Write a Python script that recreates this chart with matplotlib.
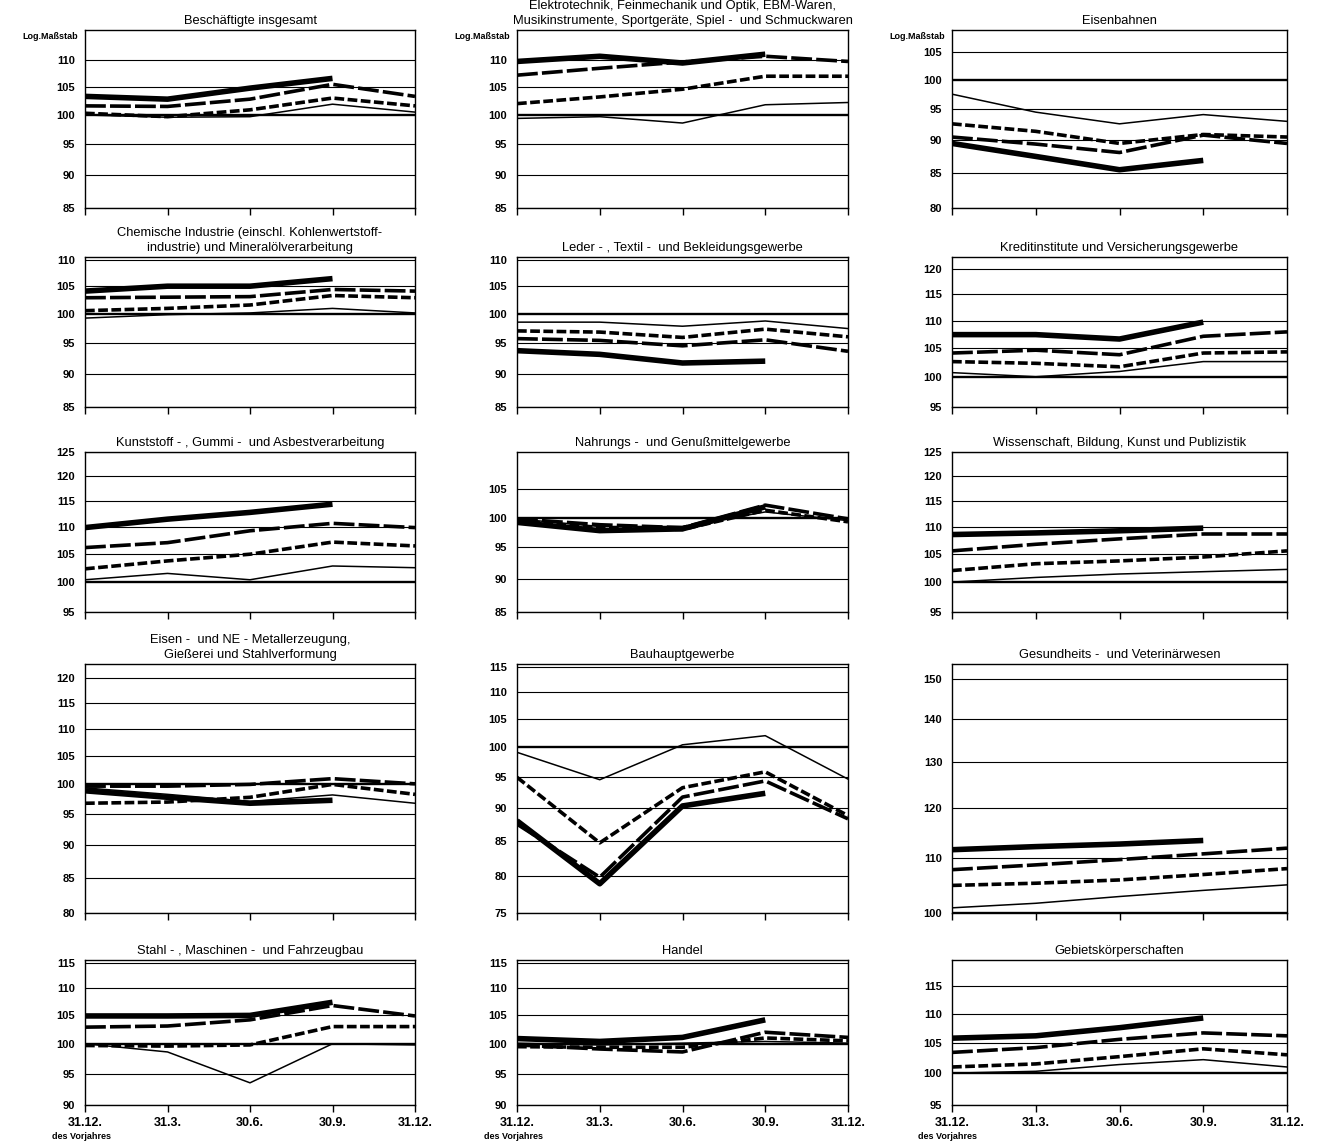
import matplotlib
matplotlib.use("Agg")
import matplotlib.pyplot as plt
from matplotlib.ticker import FixedLocator, NullFormatter, FuncFormatter

plt.rcParams['font.family'] = ['Liberation Sans', 'DejaVu Sans']
plt.rcParams['lines.scale_dashes'] = False

# ---- data -------------------------------------------------------------
titles = [
    "Beschäftigte insgesamt",
    "Elektrotechnik, Feinmechanik und Optik, EBM-Waren,\nMusikinstrumente, Sportgeräte, Spiel -  und Schmuckwaren",
    "Eisenbahnen",
    "Chemische Industrie (einschl. Kohlenwertstoff-\nindustrie) und Mineralölverarbeitung",
    "Leder - , Textil -  und Bekleidungsgewerbe",
    "Kreditinstitute und Versicherungsgewerbe",
    "Kunststoff - , Gummi -  und Asbestverarbeitung",
    "Nahrungs -  und Genußmittelgewerbe",
    "Wissenschaft, Bildung, Kunst und Publizistik",
    "Eisen -  und NE - Metallerzeugung,\nGießerei und Stahlverformung",
    "Bauhauptgewerbe",
    "Gesundheits -  und Veterinärwesen",
    "Stahl - , Maschinen -  und Fahrzeugbau",
    "Handel",
    "Gebietskörperschaften",
]

x_labels = ["31.12.", "31.3.", "30.6.", "30.9.", "31.12."]

y_ticks = [
    [85, 90, 95, 100, 105, 110],
    [85, 90, 95, 100, 105, 110],
    [80, 85, 90, 95, 100, 105],
    [85, 90, 95, 100, 105, 110],
    [85, 90, 95, 100, 105, 110],
    [95, 100, 105, 110, 115, 120],
    [95, 100, 105, 110, 115, 120, 125],
    [85, 90, 95, 100, 105],
    [95, 100, 105, 110, 115, 120, 125],
    [80, 85, 90, 95, 100, 105, 110, 115, 120],
    [75, 80, 85, 90, 95, 100, 105, 110, 115],
    [100, 110, 120, 130, 140, 150],
    [90, 95, 100, 105, 110, 115],
    [90, 95, 100, 105, 110, 115],
    [95, 100, 105, 110, 115],
]
y_top = [116, 116, 109, 110.5, 110.5, 122.5, 125, 112, 125, 123, 115.5, 154, 115.5, 115.5, 120]

# four series per panel (thin solid, short dashes, long dashes, thick solid)
thin = [
    [100.0, 99.6, 99.7, 101.9, 100.5],
    [99.4, 99.7, 98.6, 101.8, 102.2],
    [97.5, 94.5, 92.6, 94.1, 93.0],
    [99.3, 99.9, 100.2, 101.0, 100.2],
    [98.6, 98.6, 97.9, 98.8, 97.5],
    [100.7, 100.0, 100.9, 102.6, 102.6],
    [100.4, 101.5, 100.4, 102.8, 102.5],
    [99.8, 98.5, 98.5, 101.0, 99.5],
    [100.0, 100.8, 101.4, 101.8, 102.2],
    [99.3, 98.2, 97.0, 98.1, 96.7],
    [99.1, 94.5, 100.4, 102.0, 94.6],
    [100.9, 101.7, 102.9, 104.0, 105.0],
    [100.0, 98.6, 93.5, 100.0, 99.8],
    [100.1, 99.8, 100.1, 100.4, 100.1],
    [100.0, 100.3, 101.4, 102.2, 101.0],
]
short_dash = [
    [100.3, 99.7, 100.9, 103.0, 101.6],
    [102.0, 103.2, 104.6, 107.0, 107.0],
    [92.6, 91.4, 89.5, 90.9, 90.5],
    [100.6, 101.0, 101.6, 103.3, 102.9],
    [97.1, 96.9, 96.0, 97.4, 96.1],
    [102.6, 102.3, 101.7, 104.1, 104.3],
    [102.3, 103.7, 104.9, 107.1, 106.4],
    [99.5, 98.2, 98.0, 101.3, 99.3],
    [102.0, 103.2, 103.7, 104.4, 105.5],
    [96.7, 96.9, 97.7, 99.9, 98.2],
    [94.9, 84.7, 93.2, 95.8, 88.8],
    [104.9, 105.3, 105.9, 106.9, 108.0],
    [99.7, 99.6, 99.8, 103.0, 103.0],
    [99.5, 99.4, 99.4, 101.0, 100.5],
    [101.0, 101.5, 102.7, 104.0, 103.0],
]
long_dash = [
    [101.6, 101.5, 102.8, 105.5, 103.3],
    [107.2, 108.5, 109.7, 110.8, 109.8],
    [90.5, 89.4, 88.1, 90.8, 89.5],
    [102.9, 103.0, 103.1, 104.4, 104.1],
    [95.8, 95.5, 94.6, 95.6, 93.7],
    [104.1, 104.6, 103.8, 107.1, 107.9],
    [106.1, 107.0, 109.2, 110.6, 109.8],
    [99.8, 98.8, 98.3, 102.2, 99.8],
    [105.5, 106.7, 107.7, 108.6, 108.6],
    [99.6, 99.6, 99.9, 100.9, 100.0],
    [87.5, 79.8, 91.7, 94.3, 88.3],
    [107.8, 108.7, 109.7, 110.8, 111.9],
    [102.9, 103.1, 104.2, 106.8, 104.9],
    [99.8, 99.1, 98.6, 102.0, 101.1],
    [103.4, 104.2, 105.6, 106.7, 106.2],
]
thick = [
    [103.3, 102.8, 104.8, 106.6],
    [109.8, 110.8, 109.5, 111.2],
    [89.5, 87.5, 85.5, 86.9],
    [104.1, 105.0, 105.0, 106.4],
    [93.8, 93.2, 91.8, 92.1],
    [107.4, 107.4, 106.6, 109.7],
    [109.8, 111.4, 112.7, 114.3],
    [99.2, 97.8, 98.1, 101.9],
    [108.5, 108.8, 109.2, 109.7],
    [98.8, 97.7, 96.7, 97.2],
    [88.0, 78.9, 90.3, 92.3],
    [111.6, 112.2, 112.7, 113.4],
    [104.9, 104.9, 105.0, 107.4],
    [100.9, 100.4, 101.1, 104.2],
    [105.8, 106.2, 107.6, 109.3],
]

# ---- layout (pixel boxes of the panels) -------------------------------
W, H = 1320, 1146
col_px = [(85, 415), (517, 848), (952, 1287)]
row_px = [(30, 208), (257, 407), (452, 612), (664, 913), (960, 1105)]

fig = plt.figure(figsize=(W / 100, H / 100), dpi=100)

for i in range(15):
    r, c = divmod(i, 3)
    l, rr = col_px[c]
    t, b = row_px[r]
    ax = fig.add_axes([l / W, 1 - b / H, (rr - l) / W, (b - t) / H])
    xs = list(range(5))

    ax.plot(xs, thin[i], color='black', lw=1.1, zorder=3)
    ax.plot(xs, short_dash[i], color='black', lw=2.6, dashes=(7, 2.5),
            dash_capstyle='butt', zorder=4)
    ax.plot(xs, long_dash[i], color='black', lw=2.6, dashes=(15, 3),
            dash_capstyle='butt', zorder=5)
    ax.plot(xs[:len(thick[i])], thick[i], color='black', lw=4.0,
            solid_capstyle='butt', zorder=6)

    ax.set_yscale('log')
    ax.set_xlim(0, 4)
    ax.set_ylim(y_ticks[i][0], y_top[i])
    ax.yaxis.set_major_locator(FixedLocator(y_ticks[i]))
    ax.yaxis.set_major_formatter(FuncFormatter(lambda v, p: f"{v:.0f}"))
    ax.yaxis.set_minor_locator(FixedLocator([100]))
    ax.yaxis.set_minor_formatter(NullFormatter())
    ax.tick_params(axis='y', which='major', length=0, pad=7, labelsize=8)
    ax.tick_params(axis='y', which='minor', length=5, width=1.3)
    for lab in ax.get_yticklabels():
        lab.set_fontweight('bold')

    for v in y_ticks[i]:
        ax.axhline(v, color='black', lw=1.7 if v == 100 else 0.8, zorder=2)

    ax.set_xticks(xs)
    ax.tick_params(axis='x', length=5, width=1.0, direction='out')
    if r == 4:
        ax.set_xticklabels(x_labels, fontsize=9, fontweight='bold')
        ax.text(-0.1, -0.215, "des Vorjahres", transform=ax.transAxes,
                fontsize=6.5, fontweight='bold', ha='left', va='center')
    else:
        ax.set_xticklabels([])

    for s in ax.spines.values():
        s.set_linewidth(1.0)

    ax.set_title(titles[i], fontsize=9.3, pad=4, linespacing=1.4)

    if r == 0:
        ax.text(-0.02, 0.99, "Log.Maßstab", transform=ax.transAxes,
                fontsize=6.5, fontweight='bold', ha='right', va='top')

fig.savefig('out.png', dpi=100, facecolor='white')
